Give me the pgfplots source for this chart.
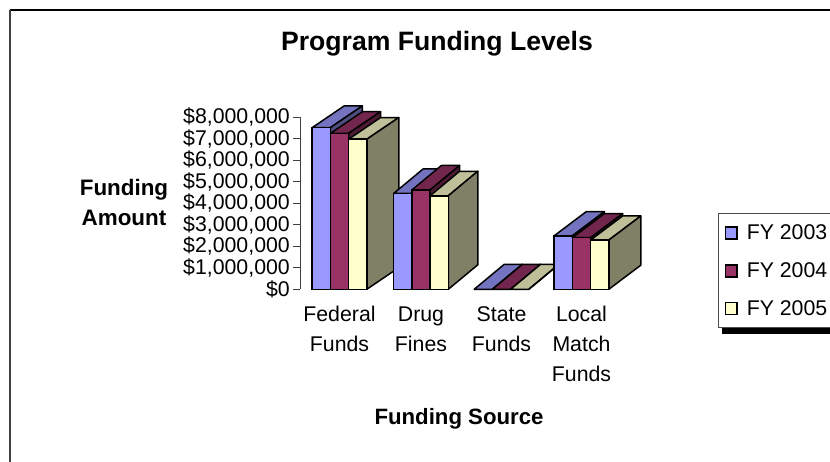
\documentclass[border=0pt]{standalone}
\usepackage{fontspec}
\setmainfont{Liberation Sans}
\usepackage{pgfplots}
\pgfplotsset{compat=1.18}
\definecolor{fa}{HTML}{9999FF}\definecolor{ta}{HTML}{7373BF}\definecolor{sa}{HTML}{4D4D80}
\definecolor{fb}{HTML}{993366}\definecolor{tb}{HTML}{73264D}\definecolor{sb}{HTML}{4D1A33}
\definecolor{fc}{HTML}{FFFFCC}\definecolor{tc}{HTML}{BFBF99}\definecolor{sc}{HTML}{808066}
\newcommand{\fs}{\fontsize{21.3}{30}\selectfont}
% #1 category position, #2 shift inside the group, #3 value in $ millions, #4 series letter, #5 depth x, #6 depth y
\newcommand{\tdbar}[6]{%
  \pgfmathsetmacro{\xl}{#1+(#2)-9.1}%
  \pgfmathsetmacro{\xr}{#1+(#2)+9.1}%
  \pgfmathsetmacro{\xL}{\xl+#5}%
  \pgfmathsetmacro{\xR}{\xr+#5}%
  \pgfmathsetmacro{\yt}{#3+#6}%
  \addplot[forget plot,fill=t#4,draw=black,line width=1.5pt,line join=round] coordinates {(\xl,#3)(\xr,#3)(\xR,\yt)(\xL,\yt)} -- cycle;
  \addplot[forget plot,fill=s#4,draw=black,line width=1.5pt,line join=round] coordinates {(\xr,0)(\xR,#6)(\xR,\yt)(\xr,#3)} -- cycle;
  \addplot[forget plot,ybar,bar width=18.2pt,bar shift=#2pt,fill=f#4,draw=black,line width=1.5pt] coordinates {(#1,#3)};
}
\begin{document}
\begin{tikzpicture}[x=1pt,y=1pt]
\path[use as bounding box,clip] (0,0) rectangle (830,462);
\fill[white] (0,0) rectangle (830,462);
\draw[black,line width=1.5pt] (10,452) -- (830,452);
\draw[black!75,line width=1.5pt] (10,452) -- (10,0);
\fill[black] (722,128) rectangle (840,135);
\begin{axis}[
  at={(300pt,172.7pt)},anchor=south west,
  scale only axis,width=340pt,height=172pt,
  xmin=300,xmax=640,ymin=0,ymax=8,
  clip=false,
  axis lines=left,
  axis line style={-},
  x axis line style={draw=none},
  y axis line style={draw=black!75,line width=1pt},
  ytick={0,1,2,3,4,5,6,7,8},
  yticklabels={{\$0},{\$1,000,000},{\$2,000,000},{\$3,000,000},{\$4,000,000},{\$5,000,000},{\$6,000,000},{\$7,000,000},{\$8,000,000}},
  xtick={339.5,421,501.5,581.5},
  xticklabels={{\strut Federal\\Funds},{\strut Drug\\Fines},{\strut State\\Funds},{\strut Local\\Match\\Funds}},
  x tick style={draw=none},
  y tick style={draw=black!75,line width=1pt},
  tick align=outside,
  major tick length=7pt,
  tick label style={font=\fs},
  x tick label style={align=center,yshift=-1pt},
  y tick label style={inner xsep=3pt},
  title={\fontsize{26.6}{30}\selectfont\bfseries Program Funding Levels},
  title style={at={(axis cs:437,11.13)},anchor=center},
  ylabel={Funding\\Amount},
  every axis y label/.style={at={(axis cs:124,4.06)},anchor=center,align=center,font=\fontsize{22.4}{30}\selectfont\bfseries},
  xlabel={\fontsize{22.2}{30}\selectfont\bfseries Funding Source},
  every axis x label/.style={at={(axis cs:459,-6.03)},anchor=center},
  legend style={at={(axis cs:718,3.535)},anchor=north west,draw=black!70,line width=1pt,fill=white,
    font=\fs,row sep=17.5pt,inner ysep=9pt,inner xsep=6pt,
    cells={anchor=west}},
]
\tdbar{339.5}{-18.2}{7.52}{a}{32}{1.01}
\tdbar{339.5}{0}{7.25}{b}{32}{1.01}
\tdbar{339.5}{18.2}{6.98}{c}{32}{1.01}
\tdbar{421}{-18.2}{4.46}{a}{29.5}{1.14}
\tdbar{421}{0}{4.62}{b}{29.5}{1.14}
\tdbar{421}{18.2}{4.35}{c}{29.5}{1.14}
\tdbar{501.5}{-18.2}{0}{a}{30}{1.16}
\tdbar{501.5}{0}{0}{b}{30}{1.16}
\tdbar{501.5}{18.2}{0}{c}{30}{1.16}
\tdbar{581.5}{-18.2}{2.49}{a}{32}{1.12}
\tdbar{581.5}{0}{2.40}{b}{32}{1.12}
\tdbar{581.5}{18.2}{2.29}{c}{32}{1.12}
\addlegendimage{legend image code/.code={\draw[fill=fa,draw=black,line width=1.5pt] (0pt,-6pt) rectangle (11.5pt,6pt);\path (19pt,0pt);}}
\addlegendentry{FY 2003\hspace{12pt}}
\addlegendimage{legend image code/.code={\draw[fill=fb,draw=black,line width=1.5pt] (0pt,-6pt) rectangle (11.5pt,6pt);\path (19pt,0pt);}}
\addlegendentry{FY 2004\hspace{12pt}}
\addlegendimage{legend image code/.code={\draw[fill=fc,draw=black,line width=1.5pt] (0pt,-6pt) rectangle (11.5pt,6pt);\path (19pt,0pt);}}
\addlegendentry{FY 2005\hspace{12pt}}
\end{axis}
\end{tikzpicture}
\end{document}
